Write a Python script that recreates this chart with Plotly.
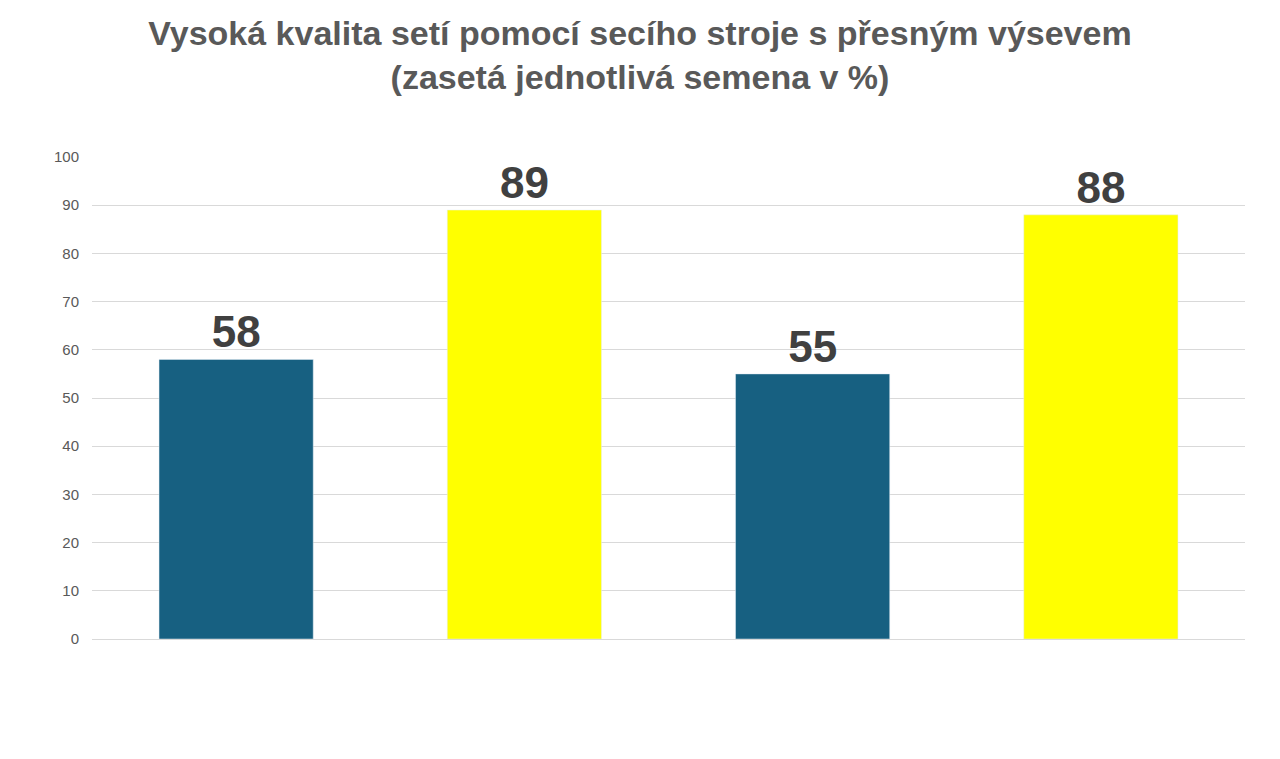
import plotly.graph_objects as go

categories = ["A", "B", "C", "D"]
values = [58, 89, 55, 88]
colors = ["#176081", "#FFFF00", "#176081", "#FFFF00"]

fig = go.Figure(go.Bar(
    x=categories, y=values, marker_color=colors,
    text=[str(v) for v in values], textposition="outside",
    textfont=dict(family="Liberation Sans, Arial", size=44, color="#404040"),
    cliponaxis=False,
))
fig.update_traces(texttemplate="<b>%{text}</b>")

fig.update_layout(
    width=1264, height=743,
    paper_bgcolor="white", plot_bgcolor="white",
    margin=dict(l=84, r=27, t=149, b=112),
    bargap=0.465,
    showlegend=False,
    title=dict(
        text="<b>Vysoká kvalita setí pomocí secího stroje s přesným výsevem<br>(zasetá jednotlivá semena v %)</b>",
        x=0.5, xanchor="center", y=0.95, yanchor="top",
        font=dict(family="Liberation Sans, Arial", size=34, color="#595959"),
    ),
    xaxis=dict(showticklabels=False, showgrid=False, showline=True,
               linecolor="#d9d9d9", linewidth=1),
    yaxis=dict(range=[0, 100], dtick=10, gridcolor="#d9d9d9", zeroline=False,
               tickfont=dict(family="Liberation Sans, Arial", size=15, color="#595959"),
               ticks="", ticklabelstandoff=12),
)

fig.write_html("out.html")
